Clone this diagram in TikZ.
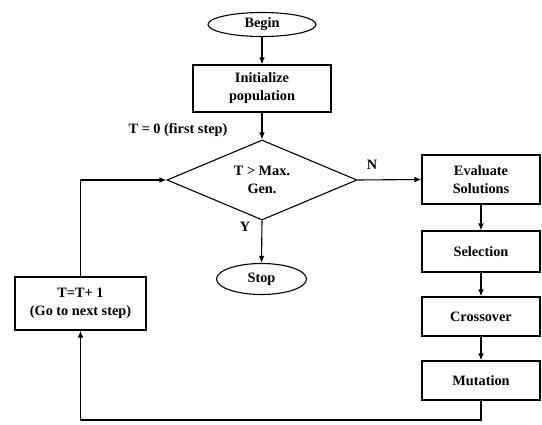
\documentclass[tikz,border=0pt]{standalone}
\usepackage{fontspec}
\setmainfont{Liberation Serif}
\usetikzlibrary{shapes.geometric,arrows.meta}
\begin{document}
\begin{tikzpicture}[x=1pt,y=-1pt,
  every node/.style={font=\fontsize{14.3}{18}\selectfont\bfseries, align=center, inner sep=0pt},
  box/.style={draw, line width=1.1pt, rectangle},
  oval/.style={draw, line width=1.1pt, ellipse},
  decide/.style={draw, line width=1.1pt, diamond, shape aspect=2.375},
  arr/.style={line width=1.1pt, -{Latex[length=7pt,width=5.5pt]}}]
\useasboundingbox (0,0) rectangle (542,425);
\node[oval, minimum width=108, minimum height=24] (begin) at (262,24.5) {Begin};
\node[box, minimum width=138, minimum height=47] (init) at (262,88.5) {Initialize\\population};
\node[decide, minimum width=190, minimum height=80] (dec) at (262,180) {T > Max.\\Gen.};
\node[oval, minimum width=90, minimum height=31] (stop) at (261.5,279) {Stop};
\node[box, minimum width=131, minimum height=53] (tbox) at (80.5,303.5) {T=T+ 1\\(Go to next step)};
\node[box, minimum width=118, minimum height=49] (eval) at (481,179.5) {Evaluate\\Solutions};
\node[box, minimum width=118, minimum height=41] (sel) at (481,251.5) {Selection};
\node[box, minimum width=118, minimum height=39] (cross) at (481,316.5) {Crossover};
\node[box, minimum width=118, minimum height=39] (mut) at (481,380.5) {Mutation};
\node (t0) at (178,130) {T = 0 (first step)};
\node (nlab) at (372,165) {N};
\node (ylab) at (245,227) {Y};
\coordinate (bot) at (481,420);
\draw[arr] (begin) -- (init);
\draw[arr] (init) -- (dec);
\draw[arr] (dec.east) -- (eval.west);
\draw[arr] (dec.south) -- (stop.north);
\draw[arr] (eval) -- (sel);
\draw[arr] (sel) -- (cross);
\draw[arr] (cross) -- (mut);
\draw[arr] (mut.south) -- (bot) -| (tbox.south);
\draw[arr] (tbox.north) |- (dec.west);
\end{tikzpicture}
\end{document}
